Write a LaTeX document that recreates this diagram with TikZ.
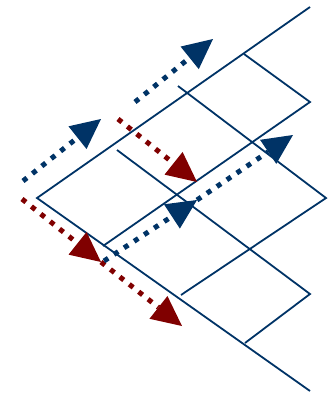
\documentclass[tikz,border=0pt]{standalone}
\usepackage{tikz}
\usetikzlibrary{arrows.meta}
\definecolor{gridblue}{RGB}{0,51,102}
\definecolor{beamred}{RGB}{128,0,0}

\begin{document}
\begin{tikzpicture}[
    x=1pt, y=-1pt,
    lattice/.style={
        draw=gridblue,
        line width=1.8pt
    },
    beam/.style={
        line width=5pt,
        dash pattern=on 5pt off 7pt,
        -{Triangle[length=30pt, width=29pt, line width=0pt]}
    },
    bluebeam/.style={beam, draw=gridblue},
    redbeam/.style={beam, draw=beamred}
]
\useasboundingbox (0,0) rectangle (329,394);

% Lattice points
\coordinate (o) at (37,198);
\coordinate (top) at (310,7);
\coordinate (bot) at (310,391);
\coordinate (a1) at (244,54);
\coordinate (a2) at (310,102);
\coordinate (a3) at (103,246);
\coordinate (b1) at (178,86);
\coordinate (b2) at (326,198);
\coordinate (b3) at (181,295);
\coordinate (c1) at (117,150);
\coordinate (c2) at (310,294);
\coordinate (c3) at (245,343);

% Beam points
\coordinate (inblue) at (23,181);
\coordinate (outblue) at (101,119);
\coordinate (upblue) at (135,102);
\coordinate (uptip) at (213,39);
\coordinate (inred) at (118,119);
\coordinate (outred) at (197,182);
\coordinate (lowred) at (22,199);
\coordinate (midred) at (101,262);
\coordinate (endred) at (182,326);
\coordinate (lowblue) at (104,261);
\coordinate (midblue) at (197,200);
\coordinate (endblue) at (293,135);

% Lattice
\draw [lattice] (top) -- (o) -- (bot);
\draw [lattice] (a1) -- (a2) -- (a3);
\draw [lattice] (b1) -- (b2) -- (b3);
\draw [lattice] (c1) -- (c2) -- (c3);

% Beams
\draw [bluebeam] (inblue) -- (outblue);
\draw [bluebeam] (upblue) -- (uptip);
\draw [redbeam] (inred) -- (outred);
\draw [redbeam] (lowred) -- (midred);
\draw [redbeam] (midred) -- (endred);
\draw [bluebeam] (lowblue) -- (midblue);
\draw [bluebeam] (midblue) -- (endblue);

\end{tikzpicture}
\end{document}
